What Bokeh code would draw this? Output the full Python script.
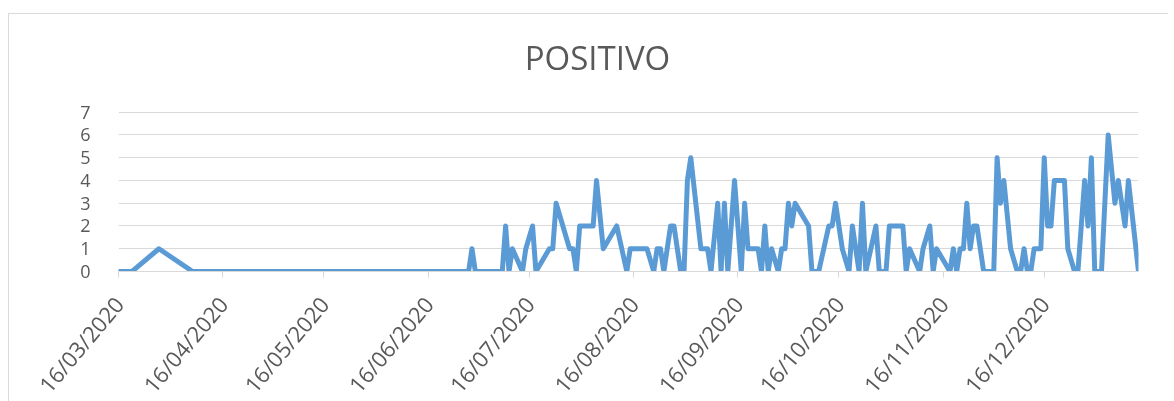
import datetime as dt
from bokeh.plotting import figure
from bokeh.models import Range1d, FixedTicker, DatetimeTickFormatter, Label
from bokeh.embed import file_html
from bokeh.resources import INLINE

title_text = "POSITIVO"

dates = [
    "2020-03-16", "2020-03-20", "2020-03-28", "2020-04-07", "2020-06-28", "2020-06-29",
    "2020-06-30", "2020-07-08", "2020-07-09", "2020-07-10", "2020-07-11", "2020-07-14",
    "2020-07-15", "2020-07-17", "2020-07-18", "2020-07-22", "2020-07-23", "2020-07-24",
    "2020-07-28", "2020-07-29", "2020-07-30", "2020-07-31", "2020-08-04", "2020-08-05",
    "2020-08-07", "2020-08-11", "2020-08-14", "2020-08-15", "2020-08-20", "2020-08-22",
    "2020-08-23", "2020-08-24", "2020-08-25", "2020-08-27", "2020-08-28", "2020-08-30",
    "2020-08-31", "2020-09-01", "2020-09-02", "2020-09-05", "2020-09-07", "2020-09-08",
    "2020-09-10", "2020-09-11", "2020-09-12", "2020-09-13", "2020-09-15", "2020-09-17",
    "2020-09-18", "2020-09-19", "2020-09-22", "2020-09-23", "2020-09-24", "2020-09-25",
    "2020-09-26", "2020-09-28", "2020-09-29", "2020-09-30", "2020-10-01", "2020-10-02",
    "2020-10-03", "2020-10-07", "2020-10-08", "2020-10-10", "2020-10-13", "2020-10-14",
    "2020-10-15", "2020-10-17", "2020-10-19", "2020-10-20", "2020-10-22", "2020-10-23",
    "2020-10-24", "2020-10-27", "2020-10-28", "2020-10-30", "2020-10-31", "2020-11-04",
    "2020-11-05", "2020-11-06", "2020-11-09", "2020-11-10", "2020-11-12", "2020-11-13",
    "2020-11-14", "2020-11-18", "2020-11-19", "2020-11-20", "2020-11-21", "2020-11-22",
    "2020-11-23", "2020-11-24", "2020-11-25", "2020-11-26", "2020-11-28", "2020-12-01",
    "2020-12-02", "2020-12-03", "2020-12-04", "2020-12-06", "2020-12-08", "2020-12-09",
    "2020-12-10", "2020-12-11", "2020-12-12", "2020-12-13", "2020-12-15", "2020-12-16",
    "2020-12-17", "2020-12-18", "2020-12-19", "2020-12-22", "2020-12-23", "2020-12-25",
    "2020-12-26", "2020-12-28", "2020-12-29", "2020-12-30", "2020-12-31", "2021-01-02",
    "2021-01-04", "2021-01-06", "2021-01-07", "2021-01-09", "2021-01-10", "2021-01-13",
]

positivo = [
    0, 0, 1, 0, 0, 1,
    0, 0, 2, 0, 1, 0,
    1, 2, 0, 1, 1, 3,
    1, 1, 0, 2, 2, 4,
    1, 2, 0, 1, 1, 0,
    1, 1, 0, 2, 2, 0,
    0, 4, 5, 1, 1, 0,
    3, 0, 3, 0, 4, 0,
    3, 1, 1, 0, 2, 0,
    1, 0, 1, 1, 3, 2,
    3, 2, 0, 0, 2, 2,
    3, 1, 0, 2, 0, 3,
    0, 2, 0, 0, 2, 2,
    0, 1, 0, 1, 2, 0,
    1, 0, 1, 0, 1, 1,
    3, 1, 2, 2, 0, 0,
    5, 3, 4, 1, 0, 0,
    1, 0, 0, 1, 1, 5,
    2, 2, 4, 4, 1, 0,
    0, 4, 2, 5, 0, 0,
    6, 3, 4, 2, 4, 0,
]

tick_dates = [
    "2020-03-16", "2020-04-16", "2020-05-16", "2020-06-16", "2020-07-16",
    "2020-08-16", "2020-09-16", "2020-10-16", "2020-11-16", "2020-12-16",
]
y_ticks = [0, 1, 2, 3, 4, 5, 6, 7]


def to_dt(s):
    return dt.datetime.strptime(s, "%Y-%m-%d")


def to_ms(d):
    return (d - dt.datetime(1970, 1, 1)).total_seconds() * 1000.0


xs = [to_dt(d) for d in dates]

# frame extends up to the top of the canvas so the title can sit inside it;
# 0..7 keep the reference scale (about 22.8 px per unit)
p = figure(
    width=1160, height=400,
    x_axis_type="datetime",
    x_range=Range1d(xs[0], xs[-1]),
    y_range=Range1d(0, 11.29),
    output_backend="svg",
    toolbar_location=None,
    min_border_left=109, min_border_right=31,
    min_border_top=0, min_border_bottom=143,
    styles={"border-top": "1px solid #d9d9d9", "border-left": "1px solid #d9d9d9",
            "position": "fixed", "top": "13px", "left": "8px"},
)
p.outline_line_color = None
p.background_fill_color = "white"
p.border_fill_color = "white"

p.line(xs, positivo, line_width=5, color="#5b9bd5", line_join="round", line_cap="round")

# axes
p.xaxis.ticker = FixedTicker(ticks=[to_ms(to_dt(d)) for d in tick_dates])
fmt = "%d/%m/%Y"
p.xaxis.formatter = DatetimeTickFormatter(
    milliseconds=fmt, seconds=fmt, minsec=fmt, minutes=fmt, hourmin=fmt,
    hours=fmt, days=fmt, months=fmt, years=fmt)
p.xaxis.major_label_orientation = 0.87
p.xaxis.axis_line_color = "#d9d9d9"
p.xaxis.major_tick_line_color = "#d9d9d9"
p.xaxis.major_tick_out = 6
p.xaxis.major_tick_in = 0
p.xaxis.minor_tick_line_color = None
p.xaxis.major_label_text_font = "Open Sans"
p.xaxis.major_label_text_font_size = "22px"
p.xaxis.major_label_text_color = "#595959"
p.xaxis.major_label_standoff = 22

p.yaxis.ticker = FixedTicker(ticks=y_ticks)
p.yaxis.axis_line_color = None
p.yaxis.major_tick_line_color = None
p.yaxis.minor_tick_line_color = None
p.yaxis.major_label_text_font = "Open Sans"
p.yaxis.major_label_text_font_size = "18px"
p.yaxis.major_label_text_color = "#595959"
p.yaxis.major_label_standoff = 22

p.xgrid.grid_line_color = None
p.ygrid.grid_line_color = "#d9d9d9"
p.ygrid.grid_line_width = 1

title = Label(x=to_ms(dt.datetime(2020, 8, 5, 7)), y=9.39, text=title_text,
              text_align="center", text_baseline="middle",
              text_font="Open Sans", text_font_size="33px", text_color="#595959")
p.add_layout(title)

open("out.html", "w").write(file_html(p, INLINE))
